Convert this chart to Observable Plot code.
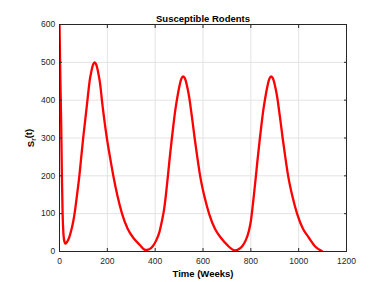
<!DOCTYPE html>
<html><head><meta charset="utf-8">
<script src="https://cdn.jsdelivr.net/npm/d3@7"></script>
<script src="https://cdn.jsdelivr.net/npm/@observablehq/plot@0.6"></script>
<style>body{margin:0;background:#fff;} svg{display:block;}</style>
</head><body><div id="chart"></div>
<script>
const weeks = [0, 2, 4, 7, 10, 13, 16, 20, 25, 30, 40, 50, 57, 63, 73, 83, 91, 99, 108, 117, 122, 127, 132, 137, 142, 147, 152, 157, 162, 167, 172, 177, 187, 198, 211, 225, 242, 262, 285, 310, 335, 359, 375, 390, 405, 418, 428, 437, 445, 453, 461, 470, 477, 484, 491, 497, 502, 507, 512, 517, 522, 527, 532, 537, 543, 549, 557, 565, 576, 588, 605, 626, 650, 674, 700, 733, 749, 764, 779, 792, 800, 806, 813, 821, 829, 838, 845, 852, 859, 865, 870, 875, 880, 885, 890, 895, 900, 905, 911, 917, 925, 933, 944, 956, 973, 994, 1018, 1042, 1068, 1097];
const rodents = [600, 520, 440, 340, 200, 100, 52, 28, 21, 24, 36, 58, 78, 100, 148, 200, 250, 300, 350, 401, 430, 455, 472, 487, 496, 500, 496, 487, 472, 455, 432, 402, 350, 300, 250, 200, 148, 99, 60, 35, 18, 4, 6, 14, 30, 52, 80, 110, 150, 198, 248, 300, 338, 373, 401, 423, 439, 452, 460, 463, 460, 453, 441, 426, 405, 378, 340, 300, 250, 200, 148, 99, 60, 37, 18, 3, 6, 14, 30, 55, 80, 110, 150, 198, 248, 300, 338, 373, 401, 423, 439, 452, 460, 463, 460, 453, 441, 426, 405, 378, 340, 300, 250, 200, 148, 99, 60, 37, 14, 1];
const xTicks = [0, 200, 400, 600, 800, 1000, 1200];
const yTicks = [0, 100, 200, 300, 400, 500, 600];
const titleText = "Susceptible Rodents";
const xLabel = "Time (Weeks)";
const yLabel = "S_r(t)";

const data = weeks.map((t, i) => ({t, s: rodents[i]}));
const font = "'Liberation Sans', Arial, Helvetica, sans-serif";
const blank = () => "";
const plain = d3.format("d");

const chart = Plot.plot({
  width: 382, height: 282,
  marginLeft: 59, marginRight: 36, marginTop: 24, marginBottom: 31,
  style: {fontFamily: font, fontSize: "8.5px", color: "#262626", background: "#fff"},
  x: {domain: [0, 1200]},
  y: {domain: [0, 600]},
  marks: [
    Plot.gridX(xTicks, {stroke: "#e3e3e3", strokeOpacity: 1}),
    Plot.gridY(yTicks, {stroke: "#e3e3e3", strokeOpacity: 1}),
    Plot.line(data, {x: "t", y: "s", stroke: "#ff0000", strokeWidth: 2.3, curve: "monotone-x", clip: true}),
    Plot.axisX(xTicks, {anchor: "bottom", tickSize: -3, tickPadding: 9, tickFormat: plain, label: xLabel, labelAnchor: "center", labelArrow: "none", labelOffset: 25}),
    Plot.axisX(xTicks, {anchor: "top", tickSize: -3, tickFormat: blank, label: titleText, labelAnchor: "center", labelArrow: "none", labelOffset: 9}),
    Plot.axisY(yTicks, {anchor: "left", tickSize: -3, tickPadding: 7.3, tickFormat: plain, label: yLabel, labelAnchor: "center", labelArrow: "none", labelOffset: 32}),
    Plot.axisY(yTicks, {anchor: "right", tickSize: -3, tickFormat: blank, label: null}),
    Plot.frame({stroke: "#262626"})
  ]
});
document.getElementById("chart").appendChild(chart);

const svg = d3.select(chart);
svg.selectAll('g[aria-label="x-axis label"] text, g[aria-label="y-axis label"] text')
  .attr("font-weight", "bold").attr("font-size", "9.5px").attr("fill", "#000");
svg.selectAll('g[aria-label="x-axis tick label"] text, g[aria-label="y-axis tick label"] text').attr("fill", "#262626");
// subscript in y label
svg.selectAll('g[aria-label="y-axis label"] text').each(function() {
  const t = d3.select(this);
  t.text("");
  t.append("tspan").text("S");
  t.append("tspan").attr("font-size", "6.5px").attr("dy", "0.3em").text("r");
  t.append("tspan").attr("dy", "-0.45em").text("(t)");
});
</script>
</body></html>
